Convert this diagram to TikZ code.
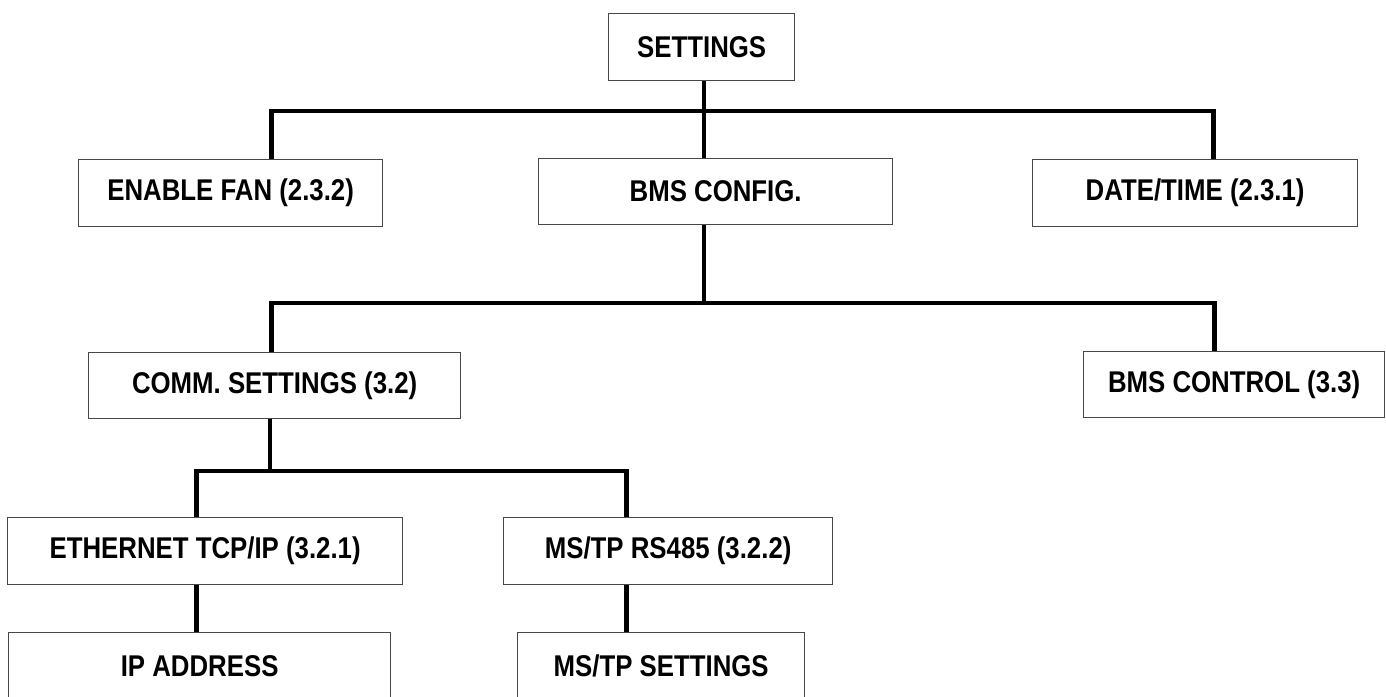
\documentclass[tikz,border=0pt]{standalone}
\usepackage{fontspec}
\setmainfont[FakeStretch=0.86]{Liberation Sans}
\begin{document}
\begin{tikzpicture}[x=1pt,y=-1pt,
  box/.style={draw=black!72,line width=1.3pt,fill=white,inner sep=0pt,
    font=\fontsize{30}{34}\selectfont\bfseries,anchor=north west},
  conn/.style={line width=4.6pt,black}]
\useasboundingbox[fill=white] (0,0) rectangle (1386,696);
% nodes (north west corner, width, height)
\node[box,minimum width=186pt,minimum height=67pt] (settings) at (608,13) {SETTINGS};
\node[box,minimum width=304pt,minimum height=67pt] (enable) at (78,159) {ENABLE FAN (2.3.2)};
\node[box,minimum width=354pt,minimum height=66pt] (bmscfg) at (538,157.5) {BMS CONFIG.};
\node[box,minimum width=325pt,minimum height=67pt] (date) at (1032,159) {DATE/TIME (2.3.1)};
\node[box,minimum width=372pt,minimum height=66pt] (comm) at (88,352) {COMM. SETTINGS (3.2)};
\node[box,minimum width=301pt,minimum height=66pt] (bmsctl) at (1083,351) {BMS CONTROL (3.3)};
\node[box,minimum width=395pt,minimum height=67pt] (eth) at (7,517) {ETHERNET TCP/IP (3.2.1)};
\node[box,minimum width=329pt,minimum height=67pt] (rs485) at (503,517) {MS/TP RS485 (3.2.2)};
\node[box,minimum width=382pt,minimum height=67pt] (ip) at (8,632) {IP ADDRESS};
\node[box,minimum width=287pt,minimum height=67pt] (mstp) at (517,632) {MS/TP SETTINGS};
% bus junctions
\coordinate (t1) at (704,111);
\coordinate (t2) at (704,303);
\coordinate (t3) at (270,471);
% connectors
\draw[conn] (settings.south -| t1) -- (bmscfg.north -| t1);
\draw[conn] ([xshift=41pt]enable.north) |- (t1) -| ([xshift=18.5pt]date.north);
\draw[conn] (bmscfg.south -| t2) -- (t2);
\draw[conn] ([xshift=-3pt]comm.north) |- (t2) -| ([xshift=-19.5pt]bmsctl.north);
\draw[conn] (comm.south -| t3) -- (t3);
\draw[conn] ([xshift=-8.5pt]eth.north) |- (t3) -| ([xshift=-41.5pt]rs485.north);
\draw[conn] ([xshift=-8.5pt]eth.south) -- ([xshift=-8.5pt]eth.south |- ip.north);
\draw[conn] ([xshift=-41.5pt]rs485.south) -- ([xshift=-41.5pt]rs485.south |- mstp.north);
\end{tikzpicture}
\end{document}
